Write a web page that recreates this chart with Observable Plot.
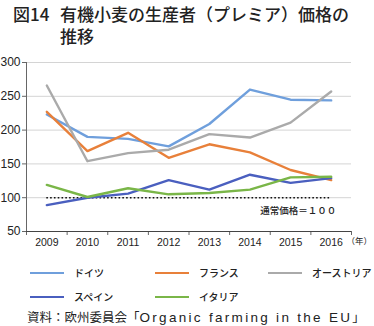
<!DOCTYPE html>
<html><head><meta charset="utf-8">
<script src="https://cdn.jsdelivr.net/npm/d3@7"></script>
<script src="https://cdn.jsdelivr.net/npm/@observablehq/plot@0.6"></script>
<style>
body{margin:0;background:#fff;font-family:"Liberation Sans","Noto Sans CJK JP",sans-serif;width:374px;height:326px;overflow:hidden;position:relative}
.t{position:absolute;font-family:"Noto Sans CJK JP",sans-serif;font-size:17px;font-weight:500;line-height:20px;color:#222;white-space:nowrap}
#chart{position:absolute;left:0;top:50px}
.leg{position:absolute;font-family:"Noto Sans CJK JP",sans-serif;font-size:10px;font-weight:500;color:#222;display:flex;align-items:center}
.leg i{display:inline-block;width:34px;height:0;border-top:2.5px solid;margin-right:10px}
.cap{position:absolute;left:27px;top:309px;font-family:"Noto Sans CJK JP",sans-serif;font-size:12.5px;color:#222;white-space:nowrap;line-height:16px}
.cap span{font-family:"Liberation Sans",sans-serif;font-size:13.5px;letter-spacing:2.3px}
</style></head>
<body>
<div class="t" style="left:13px;top:4px">図14</div>
<div class="t" style="left:60px;top:4px">有機小麦の生産者（プレミア）価格の</div>
<div class="t" style="left:60px;top:26px">推移</div>
<div id="chart"></div>
<div id="legend"></div>
<div class="cap">資料：欧州委員会「<span>Organic farming in the EU</span>」</div>
<script>
const years = [2009, 2010, 2011, 2012, 2013, 2014, 2015, 2016];
const germany = [223, 190, 187, 176, 209, 260, 245, 244];
const france  = [227, 169, 196, 159, 179, 167, 141, 126];
const austria = [266, 154, 166, 171, 194, 189, 211, 257];
const spain   = [89, 100, 106, 126, 112, 134, 122, 129];
const italy   = [119, 101, 114, 105, 107, 112, 130, 131];
const seriesNames = ["ドイツ", "フランス", "オーストリア", "スペイン", "イタリア"];
const seriesColors = ["#6f9fdc", "#e8803a", "#aaaaaa", "#4a5fbf", "#7ab648"];
const yTicks = [50, 100, 150, 200, 250, 300];
const gridTicks = [100, 150, 200, 250, 300];
const boundaries = [2008.5, 2009.5, 2010.5, 2011.5, 2012.5, 2013.5, 2014.5, 2015.5, 2016.5];
const baseline = 100;
const baselineLabel = "通常価格＝１００";
const yearUnit = "（年）";

const allSeries = [germany, france, austria, spain, italy];
const data = [];
allSeries.forEach((vals, s) => vals.forEach((v, i) => data.push({series: seriesNames[s], year: years[i], value: v})));

const chart = Plot.plot({
  width: 374, height: 205,
  marginLeft: 26, marginRight: 23, marginTop: 12, marginBottom: 24,
  style: {fontFamily: '"Liberation Sans","Noto Sans CJK JP",sans-serif', fontSize: "11px", color: "#222", overflow: "visible"},
  x: {domain: [2008.5, 2016.5]},
  y: {domain: [50, 300]},
  color: {domain: seriesNames, range: seriesColors},
  marks: [
    Plot.ruleY(gridTicks, {stroke: "#d4d4d4", strokeWidth: 1}),
    Plot.axisY({ticks: yTicks, tickSize: 4, tickPadding: 2, label: null, stroke: "#666", fontSize: 12}),
    Plot.axisX({ticks: boundaries, tickSize: 4, tickFormat: () => "", label: null, stroke: "#666"}),
    Plot.axisX({ticks: years, tickSize: 0, tickPadding: 7, tickFormat: d3.format("d"), label: null, fontSize: 10.5}),
    Plot.ruleX([2008.5], {stroke: "#666"}),
    Plot.ruleY([50], {stroke: "#444"}),
    Plot.ruleY([baseline], {x1: years[0], x2: years[years.length - 1], stroke: "#111", strokeWidth: 1.6, strokeDasharray: "1.6,2.2"}),
    Plot.line(data, {x: "year", y: "value", z: "series", stroke: "series", strokeWidth: 2.4}),
    Plot.text([baselineLabel], {x: years[years.length - 1], y: baseline, dy: 13, dx: 5, textAnchor: "end", fontSize: 9.5, fontWeight: 500, fontFamily: '"Noto Sans CJK JP",sans-serif'}),
    Plot.text([yearUnit], {frameAnchor: "bottom-right", dy: 12, dx: -5, textAnchor: "start", fontSize: 8.5, fontFamily: '"Noto Sans CJK JP",sans-serif'})
  ]
});
document.getElementById("chart").appendChild(chart);

const legendPos = [[30, 265], [155, 265], [268, 265], [30, 289], [155, 289]];
const leg = document.getElementById("legend");
seriesNames.forEach((n, i) => {
  const d = document.createElement("div");
  d.className = "leg";
  d.style.left = legendPos[i][0] + "px";
  d.style.top = legendPos[i][1] + "px";
  d.innerHTML = `<i style="border-color:${seriesColors[i]}"></i>${n}`;
  leg.appendChild(d);
});
</script>
</body></html>
